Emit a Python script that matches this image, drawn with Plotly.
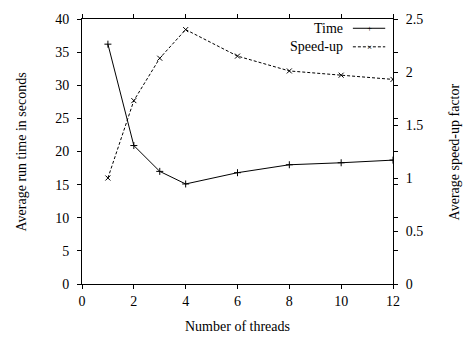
import plotly.graph_objects as go

threads = [1, 2, 3, 4, 6, 8, 10, 12]
time_s = [36.2, 20.9, 17.0, 15.1, 16.8, 18.0, 18.3, 18.7]
speedup = [1.0, 1.73, 2.13, 2.40, 2.15, 2.01, 1.97, 1.93]

FONT = "Liberation Serif"
FS = 14
fig = go.Figure()
fig.add_trace(go.Scatter(x=threads, y=time_s, mode="lines+markers", name="Time",
                         line=dict(color="black", width=1),
                         marker=dict(symbol="cross-thin", size=5, line=dict(color="black", width=1)),
                         showlegend=False))
fig.add_trace(go.Scatter(x=threads, y=speedup, mode="lines+markers", name="Speed-up", yaxis="y2",
                         line=dict(color="black", width=1, dash="3px,2px"),
                         marker=dict(symbol="x-thin", size=5, line=dict(color="black", width=1)),
                         showlegend=False))

# custom legend (gnuplot style: text then sample)
for i, (label, dash, sym) in enumerate([("Time", "solid", "+"), ("Speed-up", "3px,2px", "×")]):
    yp = 0.965 - i * 0.07
    fig.add_annotation(xref="paper", yref="paper", x=0.846, y=yp, text=label, showarrow=False,
                       xanchor="right", yanchor="middle", font=dict(family=FONT, size=FS, color="black"))
    fig.add_shape(type="line", xref="paper", yref="paper", x0=0.871, x1=0.975, y0=yp, y1=yp,
                  line=dict(color="black", width=1, dash=dash))
    fig.add_annotation(xref="paper", yref="paper", x=0.923, y=yp, text=sym, showarrow=False,
                       xanchor="center", yanchor="middle", font=dict(family=FONT, size=9, color="black"))

axis_common = dict(showgrid=False, zeroline=False, showline=True, linecolor="black", linewidth=1,
                   ticks="outside", tickcolor="black", ticklen=4,
                   tickfont=dict(family=FONT, size=FS, color="black"))

fig.update_layout(
    width=470, height=343, margin=dict(l=82, r=77, t=13, b=59),
    paper_bgcolor="white", plot_bgcolor="white",
    xaxis=dict(**axis_common, range=[0, 12], dtick=2, mirror="ticks"),
    yaxis=dict(**axis_common, range=[0, 40], dtick=5, mirror="ticks", ticklabelstandoff=5),
    yaxis2=dict(**axis_common, range=[0, 2.5], dtick=0.5, overlaying="y", side="right", ticklabelstandoff=5),
)
tf = dict(family=FONT, size=FS, color="black")
fig.add_annotation(xref="paper", yref="paper", x=-0.193, y=0.5, text="Average run time in seconds",
                   textangle=-90, showarrow=False, font=tf, xanchor="center", yanchor="middle")
fig.add_annotation(xref="paper", yref="paper", x=1.199, y=0.5, text="Average speed-up factor",
                   textangle=-90, showarrow=False, font=tf, xanchor="center", yanchor="middle")
fig.add_annotation(xref="paper", yref="paper", x=0.5, y=-0.159, text="Number of threads",
                   showarrow=False, font=tf, xanchor="center", yanchor="middle")
fig.write_html("out.html")
